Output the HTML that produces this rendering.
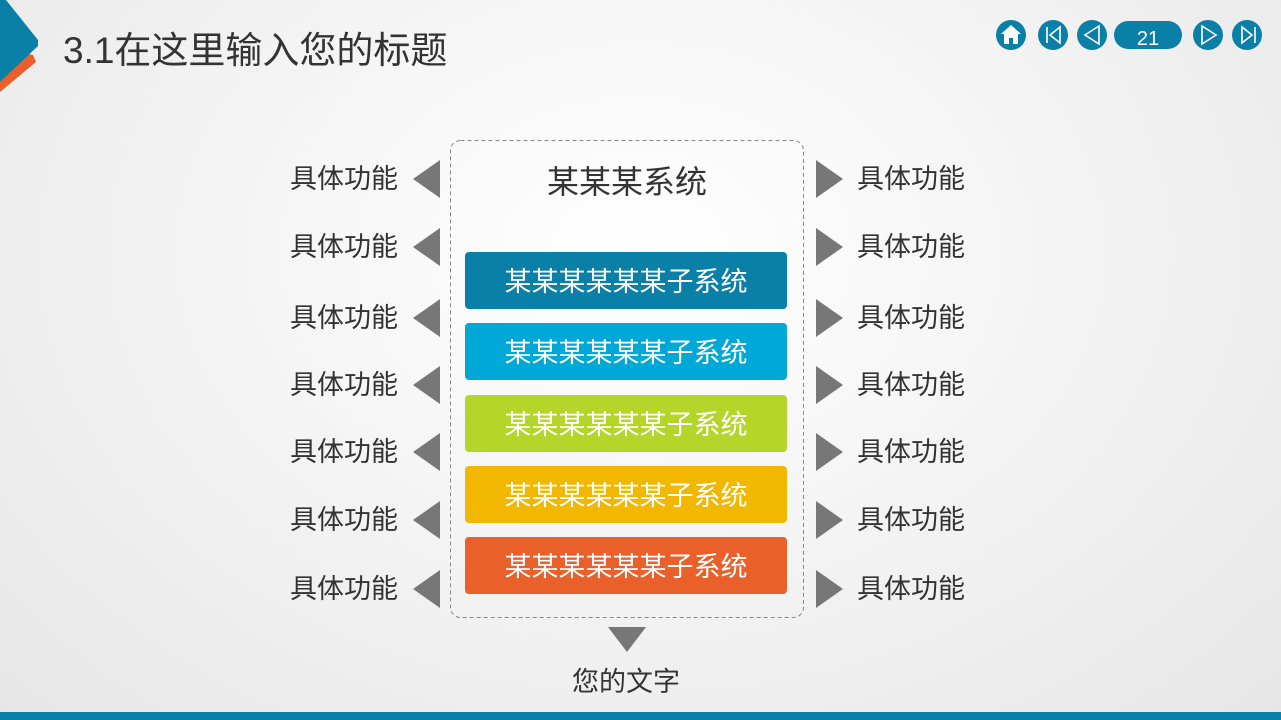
<!DOCTYPE html>
<html><head><meta charset="utf-8"><style>
body{margin:0;width:1281px;height:720px;overflow:hidden;position:relative;font-family:"Liberation Sans","Noto Sans CJK SC",sans-serif;background:radial-gradient(ellipse at 50% 35%,#ffffff 0%,#f3f3f3 50%,#e6e6e6 100%);}
.t{position:absolute;color:#333;}
.lbl{position:absolute;font-size:27px;color:#333;line-height:36px;}
.box{position:absolute;left:465px;width:322px;height:57px;border-radius:4px;color:#fff;font-size:27px;text-align:center;line-height:61px;}
</style></head><body>
<svg width="1281" height="720" style="position:absolute;left:0;top:0">
<polygon points="0,48 33,55 36,62 0,92" fill="#e9602a"/>
<polygon points="0,0 6,0 38,40 38,46 0,82" fill="#0a7fa8"/>
<rect x="0" y="712" width="1281" height="8" fill="#0a7fa8"/>
<rect x="450.5" y="140.5" width="353" height="477" rx="10" fill="none" stroke="#888" stroke-dasharray="4,3"/>
<g fill="#777">
<polygon points="413,179 440,160 440,198"/><polygon points="413,247 440,228 440,266"/><polygon points="413,318 440,299 440,337"/><polygon points="413,385 440,366 440,404"/><polygon points="413,452 440,433 440,471"/><polygon points="413,520 440,501 440,539"/><polygon points="413,589 440,570 440,608"/>
<polygon points="843,179 816,160 816,198"/><polygon points="843,247 816,228 816,266"/><polygon points="843,318 816,299 816,337"/><polygon points="843,385 816,366 816,404"/><polygon points="843,452 816,433 816,471"/><polygon points="843,520 816,501 816,539"/><polygon points="843,589 816,570 816,608"/>
<polygon points="608,627 646,627 627,652"/>
</g>
<g fill="#0a7fa8">
<circle cx="1011" cy="35" r="15"/><circle cx="1053" cy="35" r="15"/><circle cx="1092" cy="35" r="15"/>
<rect x="1114" y="21" width="68" height="28" rx="14"/>
<circle cx="1208" cy="35" r="15"/><circle cx="1247" cy="35" r="15"/>
</g>
<g fill="none" stroke="#fff" stroke-width="1.6">
<line x1="1047" y1="27" x2="1047" y2="43"/><polygon points="1060,27 1050,35 1060,43"/>
<polygon points="1099,26 1085,35 1099,44"/>
<polygon points="1202,26 1216,35 1202,44"/>
<polygon points="1242,27 1252,35 1242,43"/><line x1="1255" y1="27" x2="1255" y2="43"/>
</g>
<polygon points="1011,25 1001,34 1004,34 1004,44 1009,44 1009,38 1013,38 1013,44 1018,44 1018,34 1021,34" fill="#fff"/>
<text x="1148" y="45" fill="#fff" font-size="20" text-anchor="middle" font-family="Liberation Sans">21</text>
</svg>
<div class="t" style="left:63px;top:27px;font-size:37px;line-height:48px;">3.1在这里输入您的标题</div>
<div class="t" style="left:450px;width:354px;text-align:center;top:160px;font-size:32px;line-height:44px;">某某某系统</div>
<div class="box" style="top:252px;background:#0a7fa8">某某某某某某子系统</div>
<div class="box" style="top:323px;background:#00a8d8">某某某某某某子系统</div>
<div class="box" style="top:395px;background:#b5d52b">某某某某某某子系统</div>
<div class="box" style="top:466px;background:#f2b700">某某某某某某子系统</div>
<div class="box" style="top:537px;background:#e9602a">某某某某某某子系统</div>
<div class="lbl" style="left:290px;top:161px">具体功能</div>
<div class="lbl" style="left:290px;top:229px">具体功能</div>
<div class="lbl" style="left:290px;top:300px">具体功能</div>
<div class="lbl" style="left:290px;top:367px">具体功能</div>
<div class="lbl" style="left:290px;top:434px">具体功能</div>
<div class="lbl" style="left:290px;top:502px">具体功能</div>
<div class="lbl" style="left:290px;top:571px">具体功能</div>
<div class="lbl" style="left:857px;top:161px">具体功能</div>
<div class="lbl" style="left:857px;top:229px">具体功能</div>
<div class="lbl" style="left:857px;top:300px">具体功能</div>
<div class="lbl" style="left:857px;top:367px">具体功能</div>
<div class="lbl" style="left:857px;top:434px">具体功能</div>
<div class="lbl" style="left:857px;top:502px">具体功能</div>
<div class="lbl" style="left:857px;top:571px">具体功能</div>
<div class="lbl" style="left:572px;top:664px">您的文字</div>
</body></html>
